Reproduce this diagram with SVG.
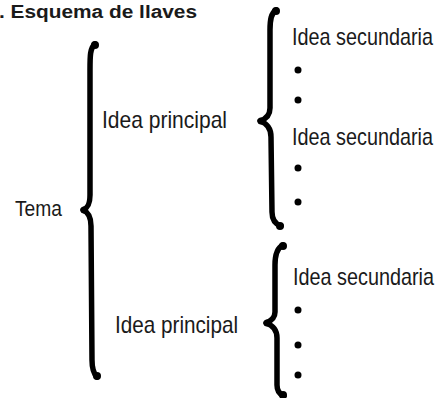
<svg xmlns="http://www.w3.org/2000/svg" width="442" height="398" viewBox="0 0 442 398">
<style>
.t{font-family:"Liberation Sans","DejaVu Sans",sans-serif;fill:#1a1a1a;font-size:20px;}
.b{fill:none;stroke:#000;stroke-width:5.5;stroke-linecap:round;stroke-linejoin:round;}
.tip{fill:#000;}
.dot{fill:#000;}
</style>
<rect width="442" height="398" fill="#fff"/>
<text x="-1" y="18" font-family="Liberation Sans, DejaVu Sans, sans-serif" font-size="18" font-weight="bold" fill="#1a1a1a" textLength="198" lengthAdjust="spacingAndGlyphs" transform="translate(0,18) scale(1,1.05) translate(0,-18)">. Esquema de llaves</text>
<g id="tema"><text class="t" transform="translate(15,216) scale(1,1.1)" font-size="19" textLength="47" lengthAdjust="spacingAndGlyphs">Tema</text></g>
<g id="idea-principal-1"><text class="t" transform="translate(102,128) scale(1,1.2)" textLength="125" lengthAdjust="spacingAndGlyphs">Idea principal</text></g>
<g id="idea-principal-2"><text class="t" transform="translate(115,333) scale(1,1.2)" textLength="123" lengthAdjust="spacingAndGlyphs">Idea principal</text></g>
<g id="sec-1"><text class="t" transform="translate(292,45) scale(1,1.2)" textLength="141" lengthAdjust="spacingAndGlyphs">Idea secundaria</text>
<circle class="dot" cx="298" cy="70" r="3.5"/><circle class="dot" cx="298" cy="100" r="3.5"/></g>
<g id="sec-2"><text class="t" transform="translate(292,145) scale(1,1.2)" textLength="141" lengthAdjust="spacingAndGlyphs">Idea secundaria</text>
<circle class="dot" cx="298" cy="168" r="3.5"/><circle class="dot" cx="298" cy="202" r="3.5"/></g>
<g id="sec-3"><text class="t" transform="translate(293,285) scale(1,1.2)" textLength="141" lengthAdjust="spacingAndGlyphs">Idea secundaria</text>
<circle class="dot" cx="298" cy="310" r="3.5"/><circle class="dot" cx="298" cy="345" r="3.5"/><circle class="dot" cx="298" cy="375" r="3.5"/></g>
<g id="connectors">
<path class="b" d="M95,44 C90,48 90,56 90,70 L90,195 C90,204 88,208 83,210 C88,212 91,216 91,226 L92,360 C92,370 94,374 97,377"/>
<circle class="tip" cx="95" cy="45" r="4"/><circle class="tip" cx="97" cy="376" r="4"/><circle class="tip" cx="84" cy="210" r="3.5"/>
<path class="b" d="M276,10 C271,13 270,20 270,30 L270,108 C270,115 266,119 260,121 C266,123 271,128 271,137 L272,212 C272,220 275,224 281,226"/>
<circle class="tip" cx="276" cy="11" r="4"/><circle class="tip" cx="280" cy="226" r="4"/><circle class="tip" cx="261" cy="121" r="3.5"/>
<path class="b" d="M283,245 C277,248 275,255 275,265 L275,312 C275,318 271,321 266,323 C272,325 277,329 277,338 L277,385 C277,391 279,394 284,396"/>
<circle class="tip" cx="283" cy="246" r="4"/><circle class="tip" cx="283" cy="395" r="4"/><circle class="tip" cx="267" cy="323" r="3.5"/>
</g>
</svg>
